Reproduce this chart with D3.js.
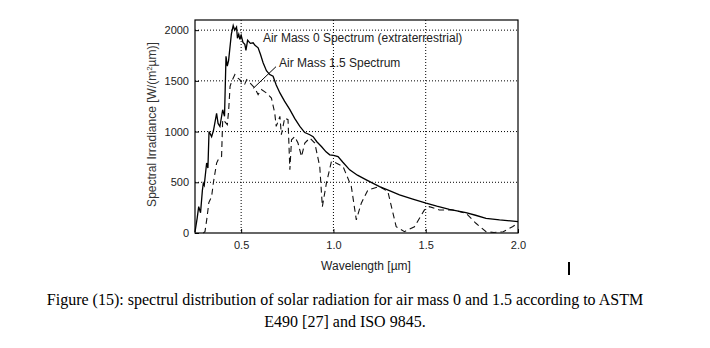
<!DOCTYPE html>
<html>
<head>
<meta charset="utf-8">
<script src="https://cdn.jsdelivr.net/npm/d3@7"></script>
<style>
  body { margin: 0; background: #fff; }
  svg { display: block; }
  .tick text { font-family: "Liberation Sans", Arial, sans-serif; font-size: 11px; fill: #222; }
</style>
</head>
<body>
<svg id="chart" width="710" height="348"></svg>
<script>
// air mass 0 (extraterrestrial), wavelength in um / irradiance in W/(m2 um)
const am0Wave = [0.25,0.262,0.27,0.28,0.29,0.295,0.30,0.313,0.32,0.326,0.34,0.35,0.367,0.375,0.385,0.40,0.41,0.418,0.425,0.432,0.44,0.447,0.457,0.465,0.475,0.48,0.487,0.493,0.50,0.51,0.52,0.526,0.535,0.55,0.565,0.575,0.592,0.605,0.619,0.637,0.655,0.673,0.69,0.71,0.735,0.764,0.79,0.818,0.845,0.872,0.89,0.91,0.935,0.96,0.98,1.0,1.025,1.05,1.088,1.13,1.178,1.25,1.30,1.358,1.43,1.502,1.56,1.628,1.718,1.77,1.827,1.9,1.96,2.0];
const am0Value = [10,150,260,200,420,490,470,690,640,1000,950,1010,1180,1080,1050,1215,1150,1743,1645,1700,1840,1960,2045,2000,2030,1920,1960,1908,1950,1880,1860,1800,1900,1870,1875,1850,1826,1760,1678,1600,1562,1545,1460,1381,1300,1216,1130,1051,990,969,950,900,853,800,771,765,754,700,623,570,524,458,420,376,335,294,265,234,201,175,145,129,120,112];

// air mass 1.5
const am15Wave = [0.295,0.304,0.315,0.325,0.34,0.35,0.367,0.38,0.394,0.40,0.41,0.425,0.432,0.44,0.45,0.466,0.48,0.493,0.50,0.511,0.52,0.53,0.547,0.574,0.592,0.61,0.637,0.664,0.682,0.69,0.70,0.71,0.718,0.736,0.754,0.764,0.773,0.79,0.808,0.827,0.845,0.872,0.899,0.926,0.94,0.962,0.989,0.998,1.052,1.097,1.124,1.151,1.187,1.25,1.295,1.34,1.385,1.439,1.493,1.52,1.574,1.646,1.718,1.772,1.827,1.87,1.92,1.97,2.0];
const am15Value = [0,13,150,300,359,500,689,740,754,1117,1100,1068,1200,1446,1500,1562,1530,1512,1490,1496,1470,1512,1480,1430,1364,1414,1381,1331,1183,1051,1100,1150,969,1134,1117,623,919,950,887,754,887,936,887,655,260,491,705,705,655,458,129,294,425,458,408,62,13,62,227,260,227,227,195,96,13,5,13,62,96];

const xTicks = [0.5, 1.0, 1.5, 2.0];
const yTicks = [0, 500, 1000, 1500, 2000];
const captionLines = [
  "Figure (15): spectrul distribution of solar radiation for air mass 0 and 1.5 according to ASTM",
  "E490 [27] and ISO 9845."
];

const svg = d3.select("#chart");
const margin = {top: 20, right: 192, bottom: 115, left: 195};
const width = 710 - margin.left - margin.right,
      height = 348 - margin.top - margin.bottom;

svg.append("rect").attr("width", 710).attr("height", 348).attr("fill", "#fff");

const g = svg.append("g").attr("transform", `translate(${margin.left},${margin.top})`);

const x = d3.scaleLinear().domain([0.25, 2.0]).range([0, width]);
const y = d3.scaleLinear().domain([0, 2100]).range([height, 0]);

// dotted grid
g.selectAll(".vgrid").data(xTicks.slice(0, -1)).enter().append("line")
  .attr("x1", d => x(d)).attr("x2", d => x(d)).attr("y1", 0).attr("y2", height)
  .attr("stroke", "#000").attr("stroke-width", 1).attr("stroke-dasharray", "1,2");
g.selectAll(".hgrid").data(yTicks.slice(1)).enter().append("line")
  .attr("x1", 0).attr("x2", width).attr("y1", d => y(d)).attr("y2", d => y(d))
  .attr("stroke", "#000").attr("stroke-width", 1).attr("stroke-dasharray", "1,2");

// axes, ticks pointing inward
const xAxis = d3.axisBottom(x).tickValues(xTicks).tickFormat(d3.format(".1f")).tickSizeInner(-4).tickSizeOuter(0).tickPadding(8);
const yAxis = d3.axisLeft(y).tickValues(yTicks).tickFormat(d3.format("d")).tickSizeInner(-4).tickSizeOuter(0).tickPadding(6);

g.append("g").attr("transform", `translate(0,${height})`).call(xAxis)
  .call(a => a.select(".domain").remove());
g.append("g").call(yAxis).call(a => a.select(".domain").remove());

// box
g.append("rect").attr("width", width).attr("height", height)
  .attr("fill", "none").attr("stroke", "#000").attr("stroke-width", 1.2);

const line = d3.line().x(d => x(d[0])).y(d => y(d[1]));

g.append("path")
  .datum(d3.zip(am15Wave, am15Value))
  .attr("d", line)
  .attr("fill", "none").attr("stroke", "#111").attr("stroke-width", 1.1)
  .attr("stroke-dasharray", "6,4");

g.append("path")
  .datum(d3.zip(am0Wave, am0Value))
  .attr("d", line)
  .attr("fill", "none").attr("stroke", "#000").attr("stroke-width", 1.3);

// annotations
const sans = "'Liberation Sans', Arial, sans-serif";
g.append("text").attr("x", x(0.618)).attr("y", y(1880))
  .attr("font-family", sans).attr("font-size", 12).attr("fill", "#222")
  .text("Air Mass 0 Spectrum (extraterrestrial)");
g.append("text").attr("x", x(0.705)).attr("y", y(1635))
  .attr("font-family", sans).attr("font-size", 12).attr("fill", "#222")
  .text("Air Mass 1.5 Spectrum");
g.append("line")
  .attr("x1", x(0.689)).attr("y1", y(1640))
  .attr("x2", x(0.566)).attr("y2", y(1427))
  .attr("stroke", "#000").attr("stroke-width", 1);

// axis titles
svg.append("text")
  .attr("x", 366).attr("y", 270)
  .attr("text-anchor", "middle")
  .attr("font-family", sans).attr("font-size", 12).attr("fill", "#222")
  .text("Wavelength [\u00b5m]");

const yl = svg.append("text")
  .attr("transform", `translate(156,${margin.top + height / 2 - 2}) rotate(-90)`)
  .attr("text-anchor", "middle")
  .attr("font-family", sans).attr("font-size", 12).attr("fill", "#333");
yl.append("tspan").text("Spectral Irradiance [W/(m");
yl.append("tspan").attr("dy", -4).attr("font-size", 8).text("2");
yl.append("tspan").attr("dy", 4).text("\u00b5m)]");

// caption
svg.selectAll(".caption").data(captionLines).enter().append("text")
  .attr("class", "caption")
  .attr("x", 345).attr("y", (d, i) => 305 + i * 22)
  .attr("text-anchor", "middle")
  .attr("font-family", "'Liberation Serif', 'Times New Roman', serif")
  .attr("font-size", 16).attr("fill", "#000")
  .text(d => d);

// stray cursor mark
svg.append("rect").attr("x", 568).attr("y", 262).attr("width", 2).attr("height", 13).attr("fill", "#000");
</script>
</body>
</html>
